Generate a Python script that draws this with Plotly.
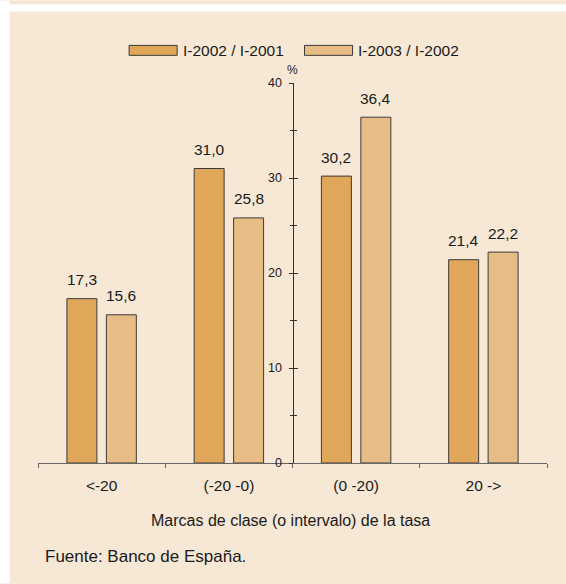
import plotly.graph_objects as go

# ---- data ----
categories = ["<-20", "(-20 -0)", "(0 -20)", "20 ->"]
series_names = ["I-2002 / I-2001", "I-2003 / I-2002"]
values_2002 = [17.3, 31.0, 30.2, 21.4]
values_2003 = [15.6, 25.8, 36.4, 22.2]
y_ticks = [0, 10, 20, 30, 40]

# ---- style ----
W, H = 566, 584
L, R, T, B = 38.3, 19.3, 82.7, 120.5
PW, PH = W - L - R, H - T - B
BG = "#F7E8D5"
C1 = "#E0A75A"
C2 = "#E8BD85"
EDGE = "#3a3a3a"
FONT = "Liberation Sans, Arial, sans-serif"
TXT = "#1a1a1a"
BARGAP = 0.38
BARGROUPGAP = 0.24


def px_x(x):
    return (x - L) / PW


def px_y(y):
    return (H - B - y) / PH


def fmt(v):
    return f"{v:.1f}".replace(".", ",")


fig = go.Figure()
for name, vals, col in [(series_names[0], values_2002, C1), (series_names[1], values_2003, C2)]:
    fig.add_trace(go.Bar(
        x=categories, y=vals, name=name,
        marker=dict(color=col, line=dict(color=EDGE, width=1)),
        showlegend=False, hoverinfo="skip",
    ))

annotations = []
off = (1 - BARGAP) / 4
for i, cat in enumerate(categories):
    for vals, sgn in [(values_2002, -1), (values_2003, 1)]:
        annotations.append(dict(
            x=i + sgn * off, y=vals[i], xref="x", yref="y",
            text=fmt(vals[i]), showarrow=False,
            yanchor="middle", xanchor="center", yshift=19,
            font=dict(family=FONT, size=15.5, color=TXT),
        ))

shapes = [
    dict(type="rect", xref="paper", yref="paper", layer="below",
         x0=px_x(0), x1=px_x(W), y0=px_y(0), y1=px_y(H),
         fillcolor="white", line=dict(width=0)),
    dict(type="rect", xref="paper", yref="paper", layer="below",
         x0=px_x(10), x1=px_x(W), y0=px_y(0), y1=px_y(3.7),
         fillcolor=BG, line=dict(width=0)),
    dict(type="rect", xref="paper", yref="paper", layer="below",
         x0=px_x(10), x1=px_x(W), y0=px_y(11), y1=px_y(H),
         fillcolor=BG, line=dict(width=0)),
]
legend_items = [(series_names[0], C1, 129.3, 182), (series_names[1], C2, 304.5, 357)]
for name, col, sx, tx in legend_items:
    shapes.append(dict(type="rect", xref="paper", yref="paper",
                       x0=px_x(sx), x1=px_x(sx + 48), y0=px_y(45), y1=px_y(55),
                       fillcolor=col, line=dict(color=EDGE, width=1)))
    annotations.append(dict(x=px_x(tx - 1), y=px_y(50.5), xref="paper", yref="paper",
                            text=name, showarrow=False, xanchor="left", yanchor="middle",
                            font=dict(family=FONT, size=15.5, color=TXT)))

annotations += [
    dict(x=px_x(292.5), y=px_y(70), xref="paper", yref="paper", text="%",
         showarrow=False, xanchor="center", yanchor="middle",
         font=dict(family=FONT, size=12, color=TXT)),
    dict(x=px_x(291), y=px_y(521), xref="paper", yref="paper",
         text="Marcas de clase (o intervalo) de la tasa",
         showarrow=False, xanchor="center", yanchor="middle",
         font=dict(family=FONT, size=16, color=TXT)),
    dict(x=px_x(43), y=px_y(557), xref="paper", yref="paper",
         text="Fuente: Banco de España.",
         showarrow=False, xanchor="left", yanchor="middle",
         font=dict(family=FONT, size=17, color=TXT)),
]

fig.update_layout(
    width=W, height=H,
    margin=dict(l=L, r=R, t=T, b=B, pad=0),
    paper_bgcolor=BG, plot_bgcolor="rgba(0,0,0,0)",
    barmode="group", bargap=BARGAP, bargroupgap=BARGROUPGAP,
    font=dict(family=FONT, color=TXT),
    xaxis=dict(
        type="category", range=[-0.5, len(categories) - 0.5],
        showline=True, linecolor="#666666", linewidth=1,
        ticks="outside", ticklen=4, tickcolor="#666666", tickson="boundaries",
        showgrid=False, zeroline=False, ticklabelstandoff=8,
        tickfont=dict(family=FONT, size=15.5, color=TXT),
        fixedrange=True,
    ),
    yaxis=dict(
        range=[0, 40], tickvals=y_ticks, anchor="free", position=0.5,
        showline=True, linecolor="#333333", linewidth=1,
        ticks="outside", ticklen=4, tickcolor="#333333",
        minor=dict(dtick=5, ticks="outside", ticklen=3, tickcolor="#333333"),
        showgrid=False, zeroline=False, ticklabelstandoff=4,
        tickfont=dict(family=FONT, size=12.5, color=TXT),
        fixedrange=True,
    ),
    yaxis2=dict(
        range=[0, 40], tickvals=y_ticks, overlaying="y", anchor="free", position=0.5,
        showline=False, showticklabels=False,
        ticks="inside", ticklen=4, tickcolor="#333333",
        minor=dict(dtick=5, ticks="inside", ticklen=3, tickcolor="#333333"),
        showgrid=False, zeroline=False, fixedrange=True,
    ),
    shapes=shapes,
    annotations=annotations,
)
fig.add_trace(go.Scatter(x=[categories[0]], y=[0], yaxis="y2", mode="markers",
                         marker=dict(opacity=0), showlegend=False, hoverinfo="skip"))

fig.write_html(
    "out.html",
    config={"displayModeBar": False},
    post_script="document.body.style.margin='0';document.documentElement.style.overflow='hidden';",
)
